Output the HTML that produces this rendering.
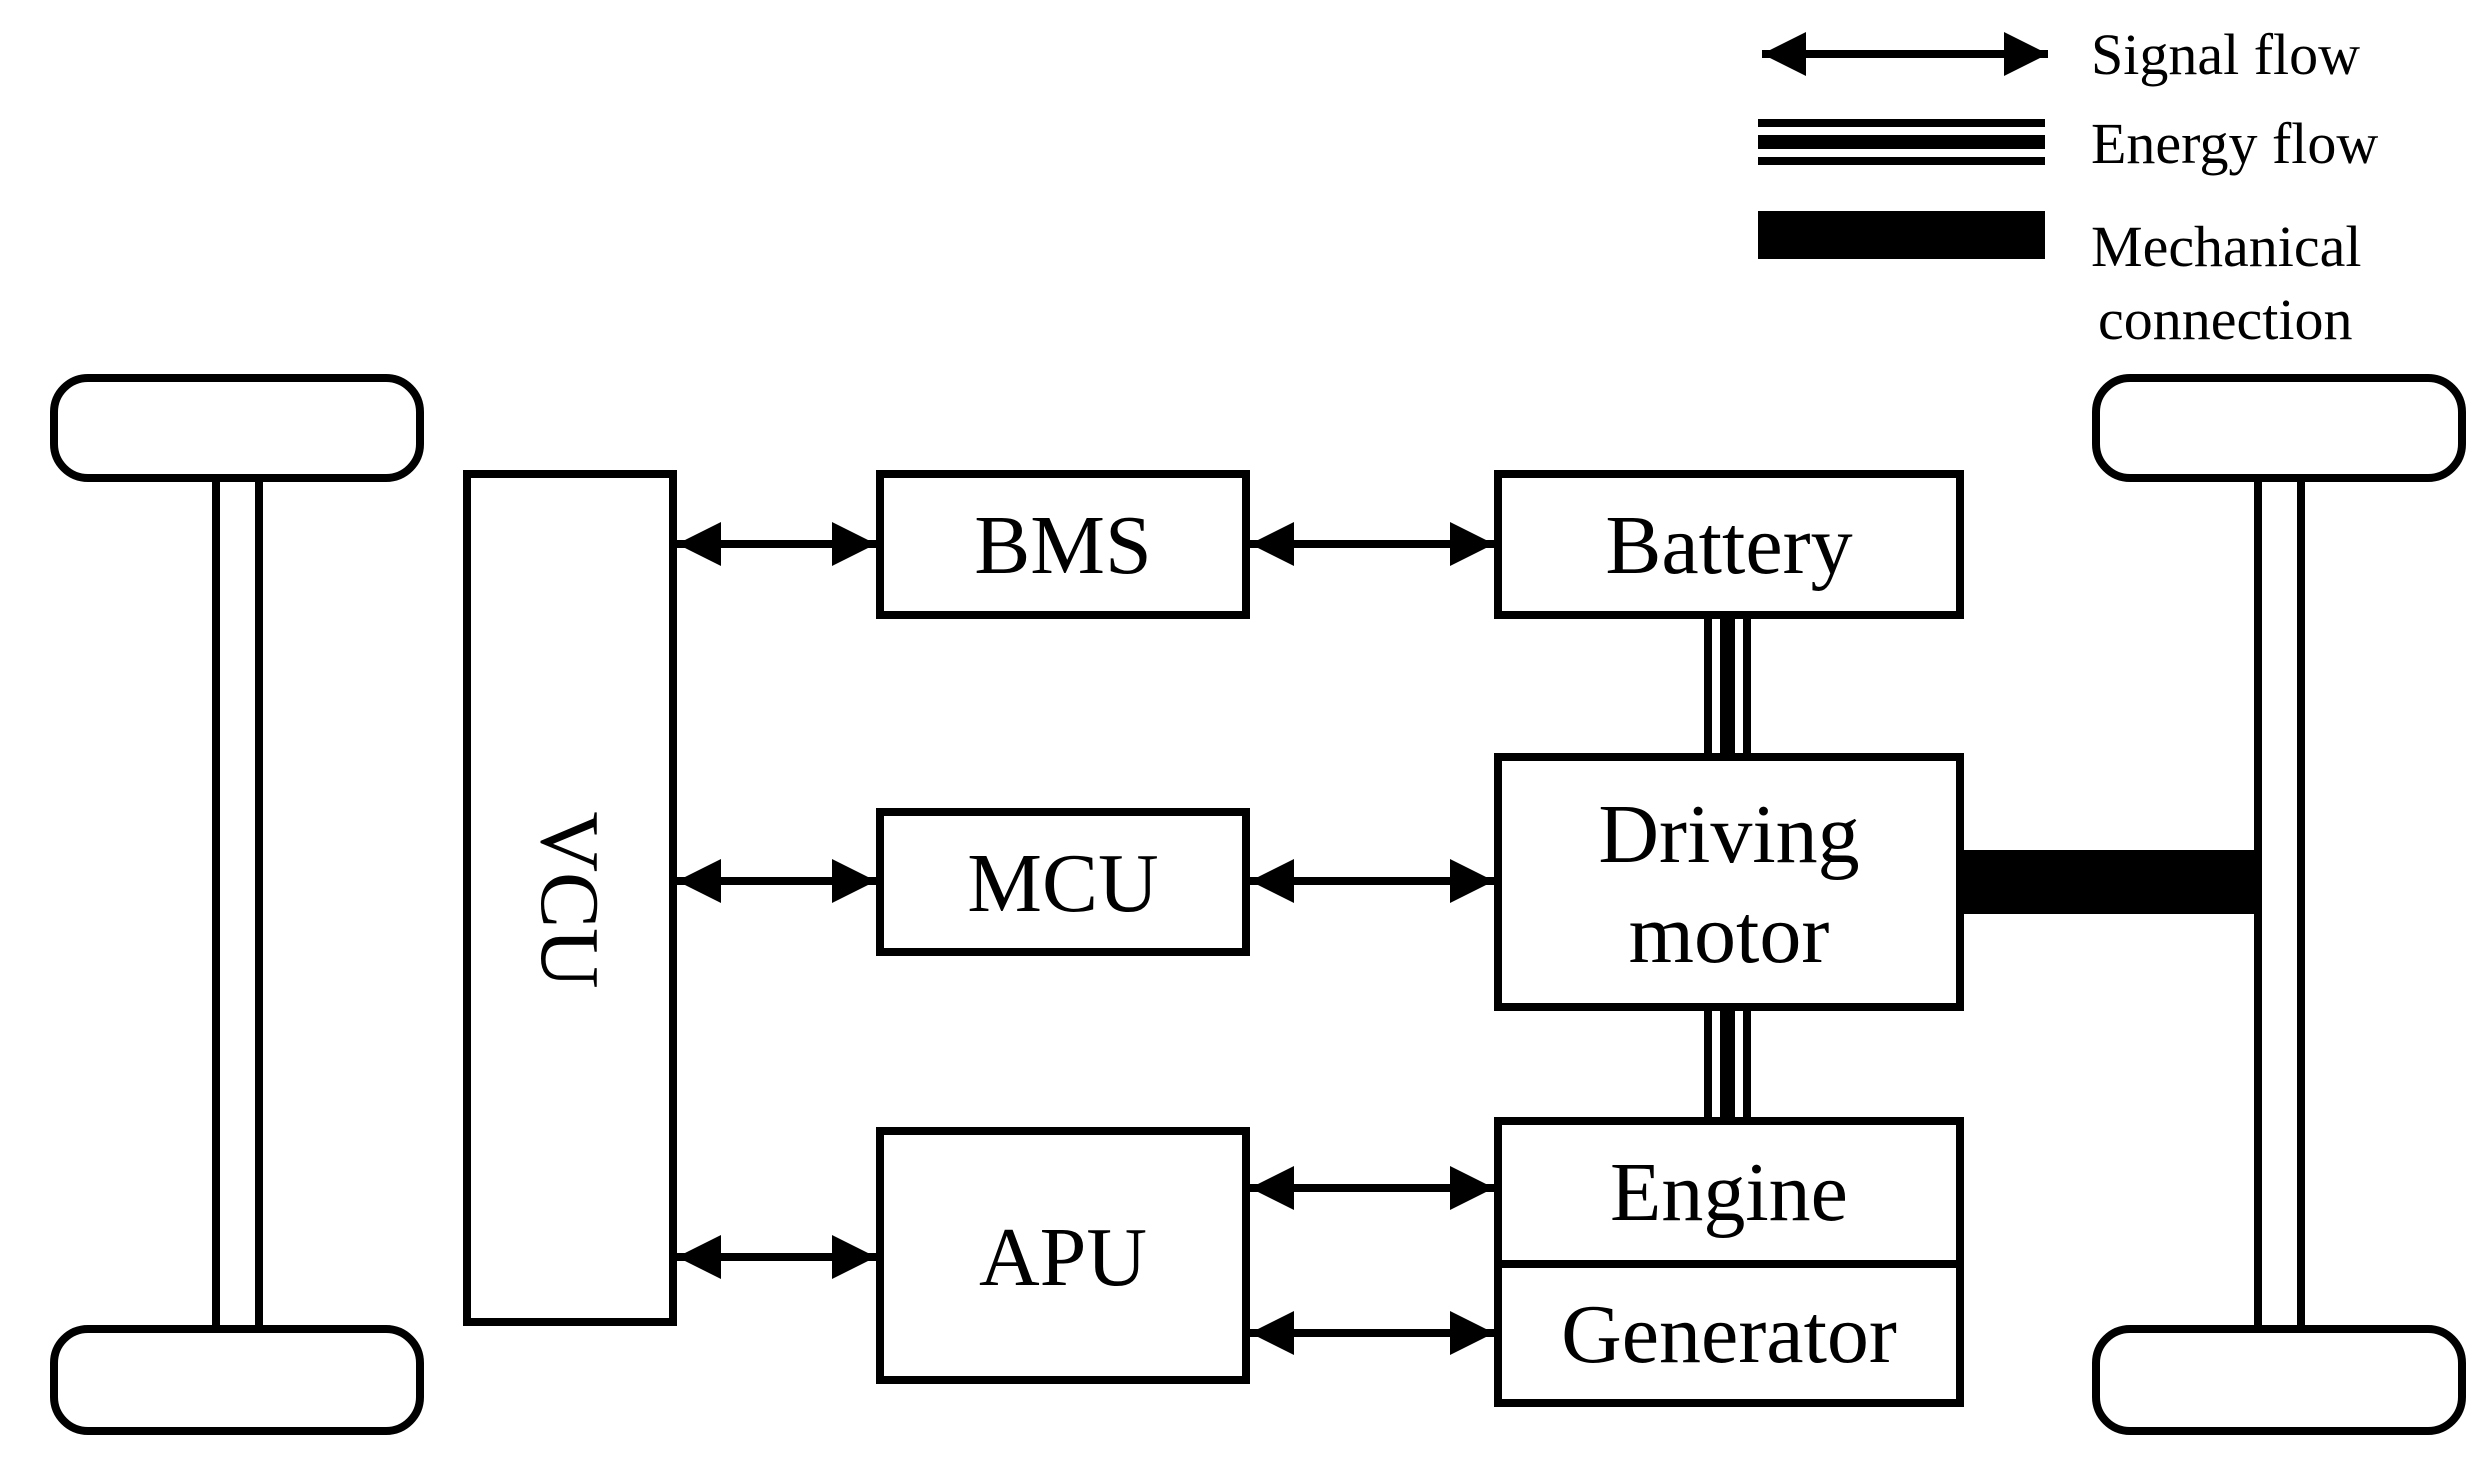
<!DOCTYPE html>
<html><head><style>html,body{margin:0;padding:0;background:#fff}svg{display:block}</style></head>
<body>
<svg width="2488" height="1462" viewBox="0 0 2488 1462" xmlns="http://www.w3.org/2000/svg" font-family="Liberation Serif, serif">
<defs>
<marker id="a" viewBox="0 0 10 10" refX="10" refY="5" markerWidth="6.5" markerHeight="5.5" markerUnits="strokeWidth" orient="auto-start-reverse"><path d="M0,0 L10,5 L0,10 z" fill="#000"/></marker>
</defs>
<g fill="none" stroke="#000" stroke-width="8">
<!-- left wheels -->
<rect x="54" y="378" width="366" height="100" rx="34"/>
<rect x="54" y="1329" width="366" height="102" rx="34"/>
<line x1="216" y1="478" x2="216" y2="1329"/>
<line x1="259" y1="478" x2="259" y2="1329"/>
<!-- right wheels -->
<rect x="2096" y="378" width="366" height="100" rx="34"/>
<rect x="2096" y="1329" width="366" height="102" rx="34"/>
<line x1="2258" y1="478" x2="2258" y2="1329"/>
<line x1="2301" y1="478" x2="2301" y2="1329"/>
<!-- boxes -->
<rect x="467" y="474" width="206" height="848"/>
<rect x="880" y="474" width="366" height="141"/>
<rect x="880" y="812" width="366" height="140"/>
<rect x="880" y="1131" width="366" height="249"/>
<rect x="1498" y="474" width="462" height="141"/>
<rect x="1498" y="757" width="462" height="250"/>
<rect x="1498" y="1121" width="462" height="282"/>
<line x1="1498" y1="1264" x2="1960" y2="1264"/>
<!-- signal arrows -->
<g marker-start="url(#a)" marker-end="url(#a)">
<line x1="677" y1="544" x2="876" y2="544"/>
<line x1="677" y1="881" x2="876" y2="881"/>
<line x1="677" y1="1257" x2="876" y2="1257"/>
<line x1="1250" y1="544" x2="1494" y2="544"/>
<line x1="1250" y1="881" x2="1494" y2="881"/>
<line x1="1250" y1="1188" x2="1494" y2="1188"/>
<line x1="1250" y1="1333" x2="1494" y2="1333"/>
<line x1="1762" y1="54" x2="2048" y2="54"/>
</g>
</g>
<!-- energy flow -->
<g fill="#000">
<rect x="1704" y="615" width="8" height="142"/><rect x="1720" y="615" width="15" height="142"/><rect x="1743" y="615" width="8" height="142"/>
<rect x="1704" y="1007" width="8" height="114"/><rect x="1720" y="1007" width="15" height="114"/><rect x="1743" y="1007" width="8" height="114"/>
<rect x="1960" y="850" width="298" height="64"/>
<!-- legend -->
<rect x="1758" y="119" width="287" height="8"/><rect x="1758" y="135" width="287" height="14"/><rect x="1758" y="157" width="287" height="8"/>
<rect x="1758" y="211" width="287" height="48"/>
</g>
<g font-size="58" fill="#000">
<text x="2091" y="74">Signal flow</text>
<text x="2091" y="163">Energy flow</text>
<text x="2091" y="266">Mechanical</text>
<text x="2098" y="339">connection</text>
</g>
<g font-size="84" fill="#000" text-anchor="middle">
<text x="1063" y="573">BMS</text>
<text x="1063" y="911">MCU</text>
<text x="1063" y="1285">APU</text>
<text x="1729" y="573">Battery</text>
<text x="1729" y="862">Driving</text>
<text x="1729" y="962">motor</text>
<text x="1729" y="1220">Engine</text>
<text x="1729" y="1362">Generator</text>
<text transform="translate(542,900) rotate(90)">VCU</text>
</g>
</svg>
</body></html>
